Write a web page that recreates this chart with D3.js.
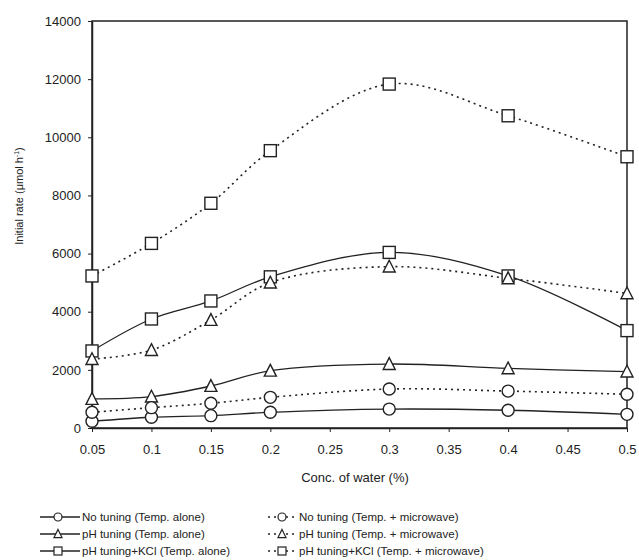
<!DOCTYPE html>
<html>
<head>
<meta charset="utf-8">
<script src="https://cdn.jsdelivr.net/npm/d3@7"></script>
<style>
  body { margin: 0; background: #fff; }
  svg text { font-family: "Liberation Sans", Arial, sans-serif; fill: #222; }
</style>
</head>
<body>
<svg id="chart" width="639" height="560"></svg>
<script>
// water concentration (%)
var water = [0.05, 0.1, 0.15, 0.2, 0.3, 0.4, 0.5];

// initial rate, umol/h
var noTuningTemp   = [230, 370, 425, 540, 650, 610, 470];
var noTuningMw     = [540, 700, 850, 1055, 1340, 1270, 1160];
var phTuningTemp   = [1000, 1080, 1445, 1970, 2200, 2050, 1940];
var phTuningMw     = [2370, 2680, 3715, 5000, 5550, 5150, 4630];
var phKclTemp      = [2650, 3750, 4370, 5200, 6040, 5230, 3350];
var phKclMw        = [5230, 6350, 7730, 9540, 11830, 10740, 9330];

var xTicks = [0.05, 0.1, 0.15, 0.2, 0.25, 0.3, 0.35, 0.4, 0.45, 0.5];
var yTicks = [0, 2000, 4000, 6000, 8000, 10000, 12000, 14000];

var series = [
  {name: "No tuning (Temp. alone)", values: noTuningTemp, marker: "circle", dashed: false},
  {name: "pH tuning (Temp. alone)", values: phTuningTemp, marker: "triangle", dashed: false},
  {name: "pH tuning+KCl (Temp. alone)", values: phKclTemp, marker: "square", dashed: false},
  {name: "No tuning (Temp. + microwave)", values: noTuningMw, marker: "circle", dashed: true},
  {name: "pH tuning (Temp. + microwave)", values: phTuningMw, marker: "triangle", dashed: true},
  {name: "pH tuning+KCl (Temp. + microwave)", values: phKclMw, marker: "square", dashed: true}
];

var svg = d3.select("#chart");
var plotL = 92, plotR = 627, plotT = 21, plotB = 428;

var x = d3.scaleLinear().domain([0.05, 0.5]).range([plotL, plotR]);
var y = d3.scaleLinear().domain([0, 14000]).range([plotB, plotT]);

// frame
svg.append("rect")
  .attr("x", plotL).attr("y", plotT)
  .attr("width", plotR - plotL).attr("height", plotB - plotT)
  .attr("fill", "none").attr("stroke", "#222").attr("stroke-width", 1.5);

var xAxis = svg.append("g")
  .attr("transform", "translate(0," + plotB + ")")
  .call(d3.axisBottom(x).tickValues(xTicks).tickSize(4).tickSizeOuter(0)
    .tickFormat(function(d) { return String(+d.toFixed(2)); }));
xAxis.select(".domain").attr("stroke", "#222").attr("stroke-width", 1.5);
xAxis.selectAll(".tick line").attr("stroke", "#222");
xAxis.selectAll("text").attr("font-size", 13).attr("dy", "1.45em");

var yAxis = svg.append("g")
  .attr("transform", "translate(" + plotL + ",0)")
  .call(d3.axisLeft(y).tickValues(yTicks).tickSize(4).tickSizeOuter(0).tickFormat(d3.format("d")));
yAxis.select(".domain").attr("stroke", "#222").attr("stroke-width", 1.5);
yAxis.selectAll(".tick line").attr("stroke", "#222");
yAxis.selectAll("text").attr("font-size", 13).attr("x", -11);

// axis titles
svg.append("text")
  .attr("x", 355).attr("y", 482)
  .attr("text-anchor", "middle").attr("font-size", 13)
  .text("Conc. of water (%)");

var yl = svg.append("text")
  .attr("transform", "translate(23,196) rotate(-90)")
  .attr("text-anchor", "middle").attr("font-size", 11);
yl.append("tspan").text("Initial rate (\u03bcmol h");
yl.append("tspan").attr("font-size", 7).attr("dy", -4).text("-1");
yl.append("tspan").attr("dy", 4).text(")");

var line = d3.line()
  .x(function(d, i) { return x(water[i]); })
  .y(function(d) { return y(d); })
  .curve(d3.curveCatmullRom.alpha(0.5));

function drawMarker(g, type, cx, cy, s) {
  if (type == "circle") {
    g.append("circle").attr("cx", cx).attr("cy", cy).attr("r", s / 2);
  } else if (type == "square") {
    g.append("rect").attr("x", cx - s / 2).attr("y", cy - s / 2).attr("width", s).attr("height", s);
  } else {
    var h = s * 0.9;
    g.append("path").attr("d", "M" + cx + "," + (cy - h / 2 - 1) + "L" + (cx + s / 2) + "," + (cy + h / 2) + "L" + (cx - s / 2) + "," + (cy + h / 2) + "Z");
  }
}

series.forEach(function(s) {
  svg.append("path")
    .datum(s.values)
    .attr("d", line)
    .attr("fill", "none")
    .attr("stroke", "#222")
    .attr("stroke-width", s.dashed ? 1.6 : 1.3)
    .attr("stroke-dasharray", s.dashed ? "2,4" : null);
});

series.forEach(function(s) {
  var g = svg.append("g").attr("fill", "#fff").attr("stroke", "#222").attr("stroke-width", 1.4);
  s.values.forEach(function(v, i) {
    drawMarker(g, s.marker, x(water[i]), y(v), 12);
  });
});

// legend
var legRows = [517, 534, 551];
series.forEach(function(s, i) {
  var col = s.dashed ? 1 : 0;
  var ly = legRows[i % 3];
  var x0 = col ? 268 : 40, x1 = col ? 297 : 80, mx = col ? 282 : 58;
  svg.append("line")
    .attr("x1", x0).attr("x2", x1).attr("y1", ly).attr("y2", ly)
    .attr("stroke", "#222").attr("stroke-width", 1.3)
    .attr("stroke-dasharray", s.dashed ? "2,4" : null);
  var g = svg.append("g").attr("fill", "#fff").attr("stroke", "#222").attr("stroke-width", 1.2);
  drawMarker(g, s.marker, mx, ly, 8);
  svg.append("text")
    .attr("x", x1 + 2).attr("y", ly + 4)
    .attr("font-size", 11.5)
    .text(s.name);
});
</script>
</body>
</html>
